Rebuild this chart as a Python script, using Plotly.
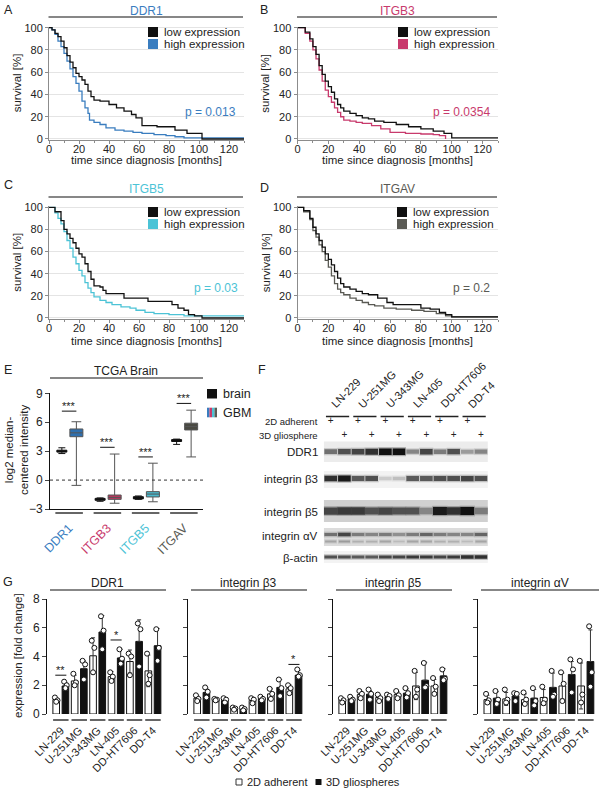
import plotly.graph_objects as go

W, H = 603, 790
FONT = "Liberation Sans, Arial, Helvetica, sans-serif"
TXT = "#222222"

C_DDR1 = "#3a7dbf"
C_ITGB3 = "#c83a6c"
C_ITGB5 = "#4cc3d6"
C_ITGAV = "#5a5a54"

# ---------------- Kaplan-Meier data (months, % survival) ----------------
ddr1_low_t = [0, 2, 4, 6, 8, 10, 12, 14, 16, 18, 20, 22, 24, 26, 28, 30, 34, 40, 45, 50, 55, 58, 62, 72, 84, 92, 102, 130]
ddr1_low_s = [100, 98, 95, 92, 88, 82, 75, 69, 64, 59, 56, 53, 49, 43, 38, 35, 34, 31, 28, 25, 22, 19, 12, 11, 8, 5, 0, 0]
ddr1_high_t = [0, 2, 4, 6, 8, 10, 12, 14, 16, 18, 20, 22, 24, 26, 27, 30, 34, 38, 44, 50, 56, 62, 70, 78, 84, 90, 130]
ddr1_high_s = [100, 98, 94, 88, 83, 77, 70, 63, 56, 50, 43, 34, 28, 23, 17, 15, 13, 10, 8, 7, 6, 5, 4, 3, 2, 1, 1]

itgb3_low_t = [0, 5, 8, 10, 12, 14, 16, 18, 20, 22, 24, 26, 28, 30, 34, 38, 42, 46, 50, 56, 64, 72, 80, 88, 95, 100, 130]
itgb3_low_s = [100, 96, 90, 83, 76, 66, 58, 52, 47, 42, 36, 31, 28, 25, 23, 21, 19, 18, 16, 15, 13, 11, 9, 7, 5, 1, 1]
itgb3_high_t = [0, 5, 8, 10, 12, 14, 16, 18, 20, 22, 24, 26, 28, 30, 34, 38, 42, 48, 54, 60, 70, 80, 88, 92, 96]
itgb3_high_s = [100, 95, 88, 80, 72, 62, 52, 44, 38, 33, 28, 24, 20, 17, 16, 15, 14, 12, 9, 6, 5, 4.5, 4, 3, 0]

itgb5_low_t = [0, 4, 8, 10, 12, 14, 16, 18, 20, 22, 24, 26, 28, 30, 34, 36, 38, 50, 66, 82, 86, 90, 93, 97, 102, 130]
itgb5_low_s = [100, 96, 88, 80, 76, 72, 68, 63, 58, 55, 49, 42, 35, 29, 28, 25, 22, 18, 15, 12, 9, 7, 3, 2, 0, 0]
itgb5_high_t = [0, 4, 6, 8, 10, 12, 14, 16, 18, 20, 22, 24, 26, 28, 30, 34, 38, 42, 48, 54, 58, 64, 70, 80, 90, 130]
itgb5_high_s = [100, 95, 90, 85, 78, 70, 63, 55, 49, 43, 38, 32, 27, 23, 19, 16, 14, 12, 10, 9, 7, 5, 4, 3, 2, 1.5]

itgav_low_t = [0, 4, 8, 10, 12, 14, 16, 18, 20, 22, 24, 26, 28, 30, 34, 38, 42, 46, 52, 58, 62, 80, 86, 92, 96, 100, 130]
itgav_low_s = [100, 97, 90, 82, 76, 70, 64, 58, 53, 48, 42, 36, 31, 28, 26, 24, 22, 21, 18, 14, 12, 9, 8, 5, 3, 1, 1]
itgav_high_t = [0, 4, 8, 10, 12, 14, 16, 18, 20, 22, 24, 26, 28, 30, 34, 38, 42, 46, 50, 56, 64, 74, 82, 90, 96, 100, 130]
itgav_high_s = [100, 96, 89, 79, 73, 66, 60, 52, 46, 38, 31, 26, 23, 21, 18, 16, 14, 12, 11, 9, 8, 7, 6, 4, 2, 1, 1]

km_ticks_x = [0, 20, 40, 60, 80, 100, 120]
km_ticks_y = [0, 20, 40, 60, 80, 100]

# ---------------- Panel E (TCGA Brain box plots) ----------------
e_genes = ["DDR1", "ITGB3", "ITGB5", "ITGAV"]
e_brain_q1 = [2.9, -2.1, -1.95, 4.0]
e_brain_med = [3.0, -2.0, -1.83, 4.1]
e_brain_q3 = [3.1, -1.9, -1.72, 4.2]
e_brain_lo = [2.75, -2.2, -2.0, 3.7]
e_brain_hi = [3.35, -1.85, -1.65, 4.25]
e_gbm_q1 = [4.5, -2.0, -1.75, 5.2]
e_gbm_med = [4.9, -1.8, -1.45, 5.55]
e_gbm_q3 = [5.3, -1.55, -1.2, 5.9]
e_gbm_lo = [-0.55, -2.4, -2.25, 2.4]
e_gbm_hi = [6.05, 2.7, 1.75, 7.25]
e_sig_y = [7.15, 3.4, 2.4, 7.95]
e_ticks_y = [-3, 0, 3, 6, 9]

# ---------------- Panel F (western blot band intensities, 0..1) ----------------
f_lines = ["LN-229", "U-251MG", "U-343MG", "LN-405", "DD-HT7606", "DD-T4"]
f_ddr1 = [0.55, 0.7, 0.75, 0.85, 1.0, 1.0, 0.45, 0.75, 0.5, 0.7, 0.35, 0.45]
f_itgb3 = [0.85, 0.95, 0.65, 0.7, 0.12, 0.18, 0.65, 0.65, 0.7, 0.7, 0.75, 0.7]
f_itgb5 = [0.75, 0.8, 0.8, 0.7, 0.75, 0.7, 0.7, 0.45, 0.95, 0.85, 1.0, 0.5]
f_itgav = [0.55, 0.75, 0.5, 0.45, 0.5, 0.4, 0.5, 0.6, 0.5, 0.45, 0.45, 0.6]
f_itgav_lower = [0.3, 0.35, 0.25, 0.25, 0.3, 0.2, 0.3, 0.3, 0.25, 0.25, 0.2, 0.3]
f_actb = [0.7, 0.7, 0.65, 0.65, 0.75, 0.75, 0.8, 0.8, 0.75, 0.8, 0.85, 0.85]

# ---------------- Panel G (qPCR fold change) ----------------
g_lines = ["LN-229", "U-251MG", "U-343MG", "LN-405", "DD-HT7606", "DD-T4"]
g_titles = ["DDR1", "integrin β3", "integrin β5", "integrin αV"]
g_series = ["2D adherent", "3D gliospheres"]
g_ticks_y = [0, 2, 4, 6, 8]

ddr1_2d_mean = [1.0, 2.3, 4.05, 2.6, 3.65, 3.0]
ddr1_2d_sd = [0.15, 0.4, 1.25, 0.35, 0.8, 1.1]
ddr1_2d_pts = [[1.15, 0.95, 0.85], [2.8, 2.2, 2.0], [5.1, 4.6, 2.9], [2.9, 2.6, 2.3], [4.2, 4.0, 2.7], [4.2, 2.7, 2.1]]
ddr1_3d_mean = [1.95, 3.15, 5.7, 3.9, 5.05, 4.75]
ddr1_3d_sd = [0.25, 0.55, 1.15, 0.6, 1.5, 1.2]
ddr1_3d_pts = [[2.25, 2.0, 1.8], [3.7, 3.45, 2.4], [6.8, 5.8, 4.5], [4.5, 3.85, 3.5], [6.3, 5.9, 3.3], [5.9, 4.6, 3.7]]

b3_2d_mean = [1.1, 1.0, 0.38, 0.95, 1.4, 1.75]
b3_2d_sd = [0.2, 0.1, 0.08, 0.2, 0.35, 0.3]
b3_2d_pts = [[1.3, 1.05, 0.9], [1.05, 1.0, 0.95], [0.45, 0.38, 0.3], [1.1, 1.0, 0.75], [1.75, 1.4, 1.05], [2.0, 1.8, 1.45]]
b3_3d_mean = [1.5, 0.95, 0.35, 1.1, 1.85, 2.7]
b3_3d_sd = [0.3, 0.15, 0.1, 0.1, 0.55, 0.35]
b3_3d_pts = [[1.85, 1.55, 1.15], [1.1, 1.0, 0.8], [0.45, 0.35, 0.25], [1.2, 1.05, 0.95], [2.4, 1.8, 1.25], [3.1, 2.7, 2.6]]

b5_2d_mean = [1.0, 1.35, 1.15, 1.35, 1.95, 1.95]
b5_2d_sd = [0.12, 0.2, 0.2, 0.2, 0.95, 0.45]
b5_2d_pts = [[1.1, 0.95, 0.8], [1.6, 1.4, 1.1], [1.35, 1.1, 0.9], [1.6, 1.3, 1.1], [3.0, 1.7, 1.2], [2.5, 1.9, 1.4]]
b5_3d_mean = [1.05, 1.38, 1.2, 1.45, 2.35, 2.65]
b5_3d_sd = [0.12, 0.25, 0.15, 0.3, 1.25, 0.5]
b5_3d_pts = [[1.2, 1.0, 0.9], [1.7, 1.4, 1.0], [1.35, 1.25, 1.05], [1.8, 1.45, 1.15], [3.55, 1.95, 1.85], [3.1, 2.45, 2.35]]

av_2d_mean = [1.0, 1.05, 1.0, 1.15, 1.95, 1.95]
av_2d_sd = [0.3, 0.45, 0.4, 0.55, 0.9, 1.6]
av_2d_pts = [[1.4, 0.95, 0.8], [1.7, 1.0, 0.8], [1.5, 1.0, 0.7], [1.9, 1.0, 0.75], [2.9, 2.1, 0.9], [3.7, 1.35, 0.8]]
av_3d_mean = [1.1, 1.25, 1.1, 1.85, 2.75, 3.65]
av_3d_sd = [0.45, 0.25, 0.6, 1.0, 0.9, 2.2]
av_3d_pts = [[1.6, 1.0, 0.7], [1.45, 1.4, 0.9], [1.8, 0.9, 0.6], [3.0, 1.35, 1.2], [3.8, 3.1, 1.5], [6.1, 2.9, 1.9]]

g_sig_panel = [0, 0, 1]
g_sig_line = [0, 3, 5]
g_sig_y = [2.7, 5.15, 3.45]
g_sig_text = ["**", "*", "*"]

# =====================================================================
def X(px):
    return px / W


def Y(py):
    return 1 - py / H


fig = go.Figure()
shapes = []
anns = []
layout = {}


def text(x, y, s, size=11.5, color=TXT, xa="center", ya="middle", angle=0, xref="paper", yref="paper"):
    anns.append(dict(
        x=X(x) if xref == "paper" else x, y=Y(y) if yref == "paper" else y,
        xref=xref, yref=yref, text=s, showarrow=False, textangle=angle,
        font=dict(family=FONT, size=size, color=color), xanchor=xa, yanchor=ya))


def pline(x0, x1, y, color="#111111", w=1.2):
    shapes.append(dict(type="line", xref="paper", yref="paper", x0=X(x0), x1=X(x1),
                       y0=Y(y), y1=Y(y), line=dict(color=color, width=w)))


def prect(x0, x1, y0, y1, color, lc=None):
    shapes.append(dict(type="rect", xref="paper", yref="paper", x0=X(x0), x1=X(x1),
                       y0=Y(y1), y1=Y(y0), fillcolor=color,
                       line=dict(width=1 if lc else 0, color=lc or color)))


# ---------------- KM panels ----------------
km_panels = [
    dict(k=1, xd=(49, 244), yd=(26.6, 140.1), name="DDR1", color=C_DDR1, low=(ddr1_low_t, ddr1_low_s),
         high=(ddr1_high_t, ddr1_high_s), p="p = 0.013", letter="A", lpos=(8, 10), ppos=(238, 112),
         ty=11, ly=17, legx=148, legy=32, xt=160.5),
    dict(k=2, xd=(297.5, 498), yd=(26.6, 140.1), name="ITGB3", color=C_ITGB3, low=(itgb3_low_t, itgb3_low_s),
         high=(itgb3_high_t, itgb3_high_s), p="p = 0.0354", letter="B", lpos=(264, 10), ppos=(492, 112),
         ty=11, ly=17, legx=398, legy=32, xt=160.5),
    dict(k=3, xd=(49, 244), yd=(206.2, 319.1), name="ITGB5", color=C_ITGB5, low=(itgb5_low_t, itgb5_low_s),
         high=(itgb5_high_t, itgb5_high_s), p="p = 0.03", letter="C", lpos=(8, 185), ppos=(240, 288),
         ty=189.5, ly=197, legx=148, legy=212, xt=340.5),
    dict(k=4, xd=(297.5, 498), yd=(206.2, 319.1), name="ITGAV", color=C_ITGAV, low=(itgav_low_t, itgav_low_s),
         high=(itgav_high_t, itgav_high_s), p="p = 0.2", letter="D", lpos=(264, 188), ppos=(492, 288),
         ty=189.5, ly=197, legx=397, legy=212, xt=340.5),
]

for p in km_panels:
    k = p["k"]
    sx = "" if k == 1 else str(k)
    fig.add_trace(go.Scatter(x=p["high"][0], y=p["high"][1], mode="lines",
                             line=dict(color=p["color"], width=1.3, shape="hv"),
                             xaxis="x" + sx, yaxis="y" + sx, showlegend=False, hoverinfo="skip"))
    fig.add_trace(go.Scatter(x=p["low"][0], y=p["low"][1], mode="lines",
                             line=dict(color="#111111", width=1.3, shape="hv"),
                             xaxis="x" + sx, yaxis="y" + sx, showlegend=False, hoverinfo="skip"))
    layout["xaxis" + sx] = dict(
        domain=[X(p["xd"][0]), X(p["xd"][1])], range=[0, 130], anchor="y" + sx, automargin=False,
        showline=True, linecolor="#8c8c8c", linewidth=1, ticks="outside", ticklen=3,
        tickcolor="#8c8c8c", tickvals=km_ticks_x, showgrid=False, zeroline=False,
        ticklabelstandoff=-4,
        minor=dict(ticks="outside", ticklen=2, tickcolor="#8c8c8c", dtick=10, tick0=0),
        tickfont=dict(family=FONT, size=11, color=TXT), fixedrange=True)
    layout["yaxis" + sx] = dict(
        domain=[Y(p["yd"][1]), Y(p["yd"][0])], range=[-1, 101], anchor="x" + sx, automargin=False,
        showline=True, linecolor="#8c8c8c", linewidth=1, ticks="outside", ticklen=3,
        tickcolor="#8c8c8c", tickvals=km_ticks_y, showgrid=True, gridcolor="#e4e4e4",
        zeroline=False, tickfont=dict(family=FONT, size=11, color=TXT), fixedrange=True)
    x0, x1 = p["xd"]
    cx = (x0 + x1) / 2
    text(cx, p["ty"], p["name"], size=12, color=p["color"])
    pline(x0 - 0.5, x1 - 1, p["ly"])
    text(p["lpos"][0], p["lpos"][1], p["letter"], size=12.5, xa="center")
    text(p["ppos"][0], p["ppos"][1], p["p"], size=12, color=p["color"], xa="right")
    text(cx, p["xt"], "time since diagnosis [months]", size=11.5)
    text(x0 - 32, (p["yd"][0] + p["yd"][1]) / 2, "survival [%]", size=11.5, angle=-90)
    lx, ly = p["legx"], p["legy"]
    prect(lx, lx + 10, ly - 5, ly + 5, "#111111")
    prect(lx, lx + 10, ly + 7, ly + 17, p["color"])
    text(lx + 14, ly, "low expression", size=11.5, xa="left")
    text(lx + 14, ly + 12, "high expression", size=11.5, xa="left")

# ---------------- Panel E ----------------
e_colors = [C_DDR1, C_ITGB3, C_ITGB5, C_ITGAV]
e_fill = ["#2f6fae", "#b8385e", "#4ab9cc", "#4a4a42"]
OFF = 0.19
fig.add_trace(go.Box(
    x=[i - OFF for i in range(len(e_genes))], q1=e_brain_q1, median=e_brain_med, q3=e_brain_q3,
    lowerfence=e_brain_lo, upperfence=e_brain_hi, width=0.26, fillcolor="#111111",
    line=dict(color="#111111", width=1), whiskerwidth=0.7, boxpoints=False,
    xaxis="x5", yaxis="y5", showlegend=False, hoverinfo="skip"))
for i in range(len(e_genes)):
    fig.add_trace(go.Box(
        x=[i + OFF], q1=[e_gbm_q1[i]], median=[e_gbm_med[i]], q3=[e_gbm_q3[i]],
        lowerfence=[e_gbm_lo[i]], upperfence=[e_gbm_hi[i]], width=0.34, fillcolor=e_fill[i],
        line=dict(color="#555555", width=1), whiskerwidth=0.75, boxpoints=False,
        xaxis="x5", yaxis="y5", showlegend=False, hoverinfo="skip"))
    shapes.append(dict(type="line", xref="x5", yref="y5", x0=i - OFF, x1=i + OFF,
                       y0=e_sig_y[i], y1=e_sig_y[i], line=dict(color="#111111", width=1)))
    anns.append(dict(x=i, y=e_sig_y[i], xref="x5", yref="y5", text="***", showarrow=False,
                     yanchor="bottom", yshift=-3, font=dict(family=FONT, size=11, color=TXT)))
    shapes.append(dict(type="line", xref="x5", yref="paper", x0=i - 0.36, x1=i + 0.36,
                       y0=Y(513), y1=Y(513), line=dict(color="#333333", width=1.5)))

layout["xaxis5"] = dict(
    domain=[X(50), X(203)], range=[-0.5, 3.5], anchor="y5", automargin=False, showline=True,
    linecolor="#111111", linewidth=1, ticks="", tickvals=list(range(len(e_genes))),
    ticktext=['<span style="color:%s">%s</span>' % (c, g) for c, g in zip(e_colors, e_genes)],
    tickangle=-45, ticklabelstandoff=6, showgrid=False, zeroline=False,
    tickfont=dict(family=FONT, size=12.5, color=TXT), fixedrange=True)
layout["yaxis5"] = dict(
    domain=[Y(509), Y(393.3)], range=[-3, 9], anchor="x5", automargin=False, showline=True,
    linecolor="#111111", linewidth=1, ticks="outside", ticklen=4, tickvals=e_ticks_y,
    showgrid=False, zeroline=False, tickfont=dict(family=FONT, size=12, color=TXT), fixedrange=True)
shapes.append(dict(type="line", xref="x5 domain", yref="y5", x0=0, x1=1, y0=0, y1=0,
                   line=dict(color="#333333", width=1, dash="dot")))
text(126, 371, "TCGA Brain", size=12)
pline(50, 203, 378)
text(8, 370, "E", size=12.5)
text(16, 450, "log2 median-<br>centered intensity", size=11.5, angle=-90)
prect(207, 217, 389, 398.5, "#111111")
for j, c in enumerate([C_DDR1, C_ITGB3, C_ITGB5, C_ITGAV]):
    prect(207 + 2.5 * j, 207 + 2.5 * (j + 1), 407.7, 417.3, c)
text(221, 394, "brain", size=12.5, xa="left")
text(221, 412.5, "GBM", size=12.5, xa="left")

# ---------------- Panel F (western blot) ----------------
n_lanes = 2 * len(f_lines)
layout["xaxis6"] = dict(domain=[X(323.9), X(487.8)], range=[-0.5, n_lanes - 0.5], anchor="y6",
                        visible=False, fixedrange=True, automargin=False)
layout["yaxis6"] = dict(domain=[Y(565), Y(405)], range=[565, 405], anchor="x6",
                        visible=False, fixedrange=True, automargin=False)
text(262, 370, "F", size=12.5)


def gray(v):
    g = int(230 - 214 * v)
    return "rgb(%d,%d,%d)" % (g, g, g)


blot_rows = [
    # values, y centre, bg (top, bottom), bg colour, thickness base, thickness gain, length
    (f_ddr1, 451.7, (441.5, 462), "#ececec", 2.5, 4.0, 9),
    (f_itgb3, 478.5, (471, 488), "#f3f3f3", 3.0, 3.0, 9),
    (f_itgb5, 511.0, (500, 522), "#d0d0d0", 5.0, 3.0, 10),
    (f_itgav, 534.5, (528, 546), "#dcdcdc", 2.0, 2.0, 9),
    (f_itgav_lower, 541.5, None, None, 1.5, 1.0, 8),
    (f_actb, 557.0, (551, 563), "#f3f3f3", 2.0, 1.5, 9),
]
lanes = list(range(n_lanes))
for vals, yc, bg, bgc, tb, tg, ln in blot_rows:
    if bg is not None:
        shapes.append(dict(type="rect", xref="x6", yref="y6", x0=-0.55, x1=n_lanes - 0.45,
                           y0=bg[0], y1=bg[1], line=dict(width=0), fillcolor=bgc, layer="below"))
    cols = [gray(v) for v in vals]
    fig.add_trace(go.Scatter(
        x=lanes, y=[yc] * n_lanes, mode="markers", xaxis="x6", yaxis="y6", opacity=0.3,
        marker=dict(symbol="line-ew", size=ln + 1, color=cols,
                    line=dict(color=cols, width=[tb + tg * v + 2.5 for v in vals])),
        showlegend=False, hoverinfo="skip"))
    fig.add_trace(go.Scatter(
        x=lanes, y=[yc] * n_lanes, mode="markers", xaxis="x6", yaxis="y6",
        marker=dict(symbol="line-ew", size=ln, color=cols,
                    line=dict(color=cols, width=[tb + tg * v for v in vals])),
        showlegend=False, hoverinfo="skip"))

fig.add_trace(go.Scatter(x=lanes[0::2], y=[421.7] * len(f_lines), mode="text", text=["+"] * len(f_lines),
                         textfont=dict(family=FONT, size=10, color=TXT), xaxis="x6", yaxis="y6",
                         showlegend=False, hoverinfo="skip"))
fig.add_trace(go.Scatter(x=lanes[1::2], y=[435] * len(f_lines), mode="text", text=["+"] * len(f_lines),
                         textfont=dict(family=FONT, size=10, color=TXT), xaxis="x6", yaxis="y6",
                         showlegend=False, hoverinfo="skip"))
for i, name in enumerate(f_lines):
    shapes.append(dict(type="line", xref="x6", yref="y6", x0=2 * i - 0.35, x1=2 * i + 1.35,
                       y0=416.5, y1=416.5, line=dict(color="#222222", width=1.5)))
    anns.append(dict(x=2 * i - 0.35, y=413, xref="x6", yref="y6", text=name, showarrow=False,
                     textangle=-45, xanchor="left", yanchor="bottom",
                     font=dict(family=FONT, size=11, color=TXT)))
for lab, yy, sz in [("2D adherent", 421.7, 9.5), ("3D gliosphere", 435, 9.5), ("DDR1", 451.7, 11.5),
                    ("integrin β3", 479, 11.5), ("integrin β5", 511.5, 11.5), ("integrin αV", 536, 11.5),
                    ("β-actin", 557.5, 11.5)]:
    text(320, yy, lab, size=sz, xa="right")

# ---------------- Panel G ----------------
g_data = [
    (ddr1_2d_mean, ddr1_2d_sd, ddr1_2d_pts, ddr1_3d_mean, ddr1_3d_sd, ddr1_3d_pts),
    (b3_2d_mean, b3_2d_sd, b3_2d_pts, b3_3d_mean, b3_3d_sd, b3_3d_pts),
    (b5_2d_mean, b5_2d_sd, b5_2d_pts, b5_3d_mean, b5_3d_sd, b5_3d_pts),
    (av_2d_mean, av_2d_sd, av_2d_pts, av_3d_mean, av_3d_sd, av_3d_pts),
]
g_dom = [(47, 164), (188, 305), (333, 450), (478, 597)]
BO = 0.25
JIT = [-0.07, 0.07, 0.0]
for pi, (m2, s2, p2, m3, s3, p3) in enumerate(g_data):
    k = 7 + pi
    xa, ya = "x%d" % k, "y%d" % k
    idx = list(range(len(g_lines)))
    fig.add_trace(go.Bar(
        x=[i - BO for i in idx], y=m2, width=0.36, name=g_series[0],
        marker=dict(color="white", line=dict(color="#111111", width=1)),
        error_y=dict(type="data", array=s2, visible=True, color="#333333", thickness=1, width=2),
        xaxis=xa, yaxis=ya, showlegend=False, hoverinfo="skip"))
    fig.add_trace(go.Bar(
        x=[i + BO for i in idx], y=m3, width=0.36, name=g_series[1],
        marker=dict(color="#111111", line=dict(color="#111111", width=1)),
        error_y=dict(type="data", symmetric=False, array=s3, arrayminus=[0] * len(s3), visible=True,
                     color="#333333", thickness=1, width=2),
        xaxis=xa, yaxis=ya, showlegend=False, hoverinfo="skip"))
    px, py = [], []
    for i in idx:
        for j, v in enumerate(p2[i]):
            px.append(i - BO + JIT[j])
            py.append(v)
        for j, v in enumerate(p3[i]):
            px.append(i + BO + JIT[j])
            py.append(v)
    fig.add_trace(go.Scatter(
        x=px, y=py, mode="markers", xaxis=xa, yaxis=ya, showlegend=False, hoverinfo="skip",
        marker=dict(symbol="circle", size=5, color="white", line=dict(color="#111111", width=1))))
    d0, d1 = g_dom[pi]
    layout["xaxis%d" % k] = dict(
        domain=[X(d0), X(d1)], range=[-0.75, 5.6], anchor=ya, automargin=False, showline=False,
        ticks="", tickvals=idx, ticktext=g_lines, tickangle=-45, ticklabelstandoff=7,
        showgrid=False, zeroline=False, tickfont=dict(family=FONT, size=11, color=TXT), fixedrange=True)
    layout["yaxis%d" % k] = dict(
        domain=[Y(714), Y(599)], range=[0, 8], anchor=xa, automargin=False, showline=True,
        linecolor="#111111", linewidth=1, ticks="outside", ticklen=4, tickvals=g_ticks_y,
        showticklabels=(pi == 0), showgrid=False, zeroline=False,
        tickfont=dict(family=FONT, size=12, color=TXT), fixedrange=True)
    for i in idx:
        shapes.append(dict(type="line", xref=xa, yref="paper", x0=i - 0.42, x1=i + 0.42,
                           y0=Y(720), y1=Y(720), line=dict(color="#333333", width=1.5)))
    pline(d0 + 3, d1 + 2, 590)
    text((d0 + d1) / 2 + 2, 583, g_titles[pi], size=12)

for pan, li, yv, tx in zip(g_sig_panel, g_sig_line, g_sig_y, g_sig_text):
    k = 7 + pan
    shapes.append(dict(type="line", xref="x%d" % k, yref="y%d" % k, x0=li - 0.3, x1=li + 0.3,
                       y0=yv, y1=yv, line=dict(color="#111111", width=1)))
    anns.append(dict(x=li, y=yv, xref="x%d" % k, yref="y%d" % k, text=tx, showarrow=False,
                     yanchor="bottom", yshift=-3, font=dict(family=FONT, size=11, color=TXT)))

text(8, 582, "G", size=12.5)
text(18, 656, "expression [fold change]", size=11.5, angle=-90)
# G legend
prect(236, 242, 779, 785, "white", lc="#333333")
text(244.5, 782, g_series[0], size=11, xa="left")
prect(315.5, 321.5, 779, 785, "#111111")
text(324, 782, g_series[1], size=11, xa="left")

fig.update_layout(
    width=W, height=H, margin=dict(l=0, r=0, t=0, b=0, pad=0), autosize=False,
    paper_bgcolor="white", plot_bgcolor="white",
    barmode="overlay", boxmode="overlay", showlegend=False,
    font=dict(family=FONT, size=11.5, color=TXT),
    shapes=shapes, annotations=anns,
    **layout)

fig.write_html("out.html", config={"displayModeBar": False, "staticPlot": True},
               post_script="document.body.style.margin='0';document.body.style.overflow='hidden';")
